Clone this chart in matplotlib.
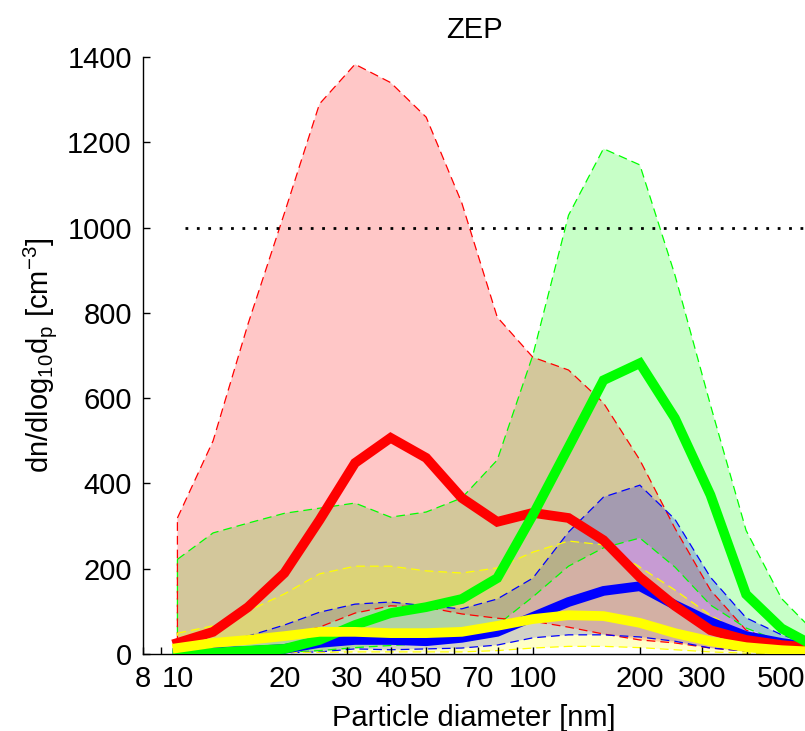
import numpy as np
import matplotlib
matplotlib.use('Agg')
import matplotlib.pyplot as plt

plt.rcParams['font.family'] = ['Liberation Sans', 'DejaVu Sans']
plt.rcParams['mathtext.default'] = 'regular'

# size bins [nm], 10 per decade
dp = [10, 12.6, 15.8, 20, 25.1, 31.6, 39.8, 50.1, 63.1, 79.4,
      100, 126, 158, 200, 251, 316, 398, 501, 631]

# dn/dlog10dp [cm^-3]: median, min, max per group
red_med = [26, 52, 110, 190, 314, 448, 507, 460, 366, 310, 331, 319, 267, 180, 113, 56, 33, 21, 14]
red_min = [10, 18, 28, 42, 63, 96, 113, 110, 94, 84, 77, 63, 47, 33, 26, 14, 7, 4, 2]
red_max = [319, 500, 774, 1034, 1290, 1383, 1340, 1259, 1058, 790, 696, 666, 589, 455, 295, 150, 56, 26, 9]

green_med = [0, 3, 8, 12, 33, 68, 96, 110, 129, 178, 326, 485, 642, 682, 553, 373, 140, 60, 15]
green_min = [0, 1, 2, 4, 8, 15, 20, 25, 40, 68, 134, 206, 249, 272, 204, 115, 61, 28, 9]
green_max = [222, 284, 307, 330, 342, 354, 321, 333, 366, 455, 701, 1029, 1185, 1147, 889, 584, 290, 130, 45]

blue_med = [3, 5, 7, 12, 26, 33, 33, 30, 38, 52, 87, 122, 148, 159, 115, 75, 42, 26, 14]
blue_min = [2, 2, 2, 3, 5, 12, 10, 12, 14, 21, 38, 45, 45, 40, 30, 14, 7, 3, 1]
blue_max = [20, 28, 42, 68, 98, 117, 122, 113, 106, 129, 178, 286, 368, 396, 316, 180, 85, 45, 18]

yellow_med = [14, 26, 33, 42, 52, 52, 49, 49, 52, 66, 82, 91, 89, 73, 49, 30, 16, 9, 5]
yellow_min = [2, 3, 3, 4, 4, 5, 5, 5, 5, 8, 14, 18, 18, 15, 10, 5, 2, 1, 0]
yellow_max = [49, 66, 101, 141, 188, 206, 206, 195, 190, 202, 239, 265, 256, 204, 150, 91, 45, 21, 9]

limit = 1000
xticks = [8, 10, 20, 30, 40, 50, 70, 100, 200, 300, 500]
xminor = [9, 60, 80, 90, 400]

groups = [
    ('#00ff00', green_med, green_min, green_max),
    ('#ff0000', red_med, red_min, red_max),
    ('#0000ff', blue_med, blue_min, blue_max),
    ('#ffff00', yellow_med, yellow_min, yellow_max),
]

fig = plt.figure(figsize=(8.05, 7.31), dpi=100)
ax = fig.add_axes([0.1776, 0.1053, 0.8224, 0.8167])

x = np.array(dp)
for col, med, lo, hi in groups:
    px = np.concatenate([x, x[::-1]])
    py = np.concatenate([np.array(hi), np.array(lo)[::-1]])
    ax.fill(px, py, facecolor=col, alpha=0.22, edgecolor='none', zorder=1)
    ax.fill(px, py, facecolor='none', edgecolor=col, linestyle=(0, (7, 4)),
            linewidth=0.9, zorder=1.5)

# thick medians
ax.plot(x, blue_med, color='#0000ff', lw=7, zorder=3, solid_joinstyle='miter')
ax.plot(x, red_med, color='#ff0000', lw=7, zorder=3.1, solid_joinstyle='miter')
ax.plot(x, green_med, color='#00ff00', lw=7, zorder=3.2, solid_joinstyle='miter')
ax.plot(x, yellow_med, color='#ffff00', lw=7, zorder=3.3, solid_joinstyle='miter')

ax.plot([10.5, 600], [limit, limit], color='k', lw=2, linestyle=(0, (1, 3.1)), zorder=4)

ax.set_xscale('log')
ax.set_xlim(8, 583)
ax.set_ylim(0, 1400)
ax.set_xticks(xticks)
ax.set_xticklabels([str(t) for t in xticks])
ax.set_xticks(xminor, minor=True)
ax.xaxis.set_minor_formatter(matplotlib.ticker.NullFormatter())
ax.set_yticks(range(0, 1401, 200))

ax.tick_params(axis='both', which='both', direction='in', length=5, width=1,
               labelsize=21, pad=8)
for s in ['top', 'right']:
    ax.spines[s].set_visible(False)
for s in ['left', 'bottom']:
    ax.spines[s].set_linewidth(1)
    ax.spines[s].set_zorder(2.5)

ax.set_xlabel('Particle diameter [nm]', fontsize=21, labelpad=8)
ax.set_ylabel('dn/dlog$_{10}$d$_p$ [cm$^{-3}$]', fontsize=21, labelpad=6)
ax.set_title('ZEP', fontsize=21, pad=14)

fig.savefig('out.png', dpi=100)
